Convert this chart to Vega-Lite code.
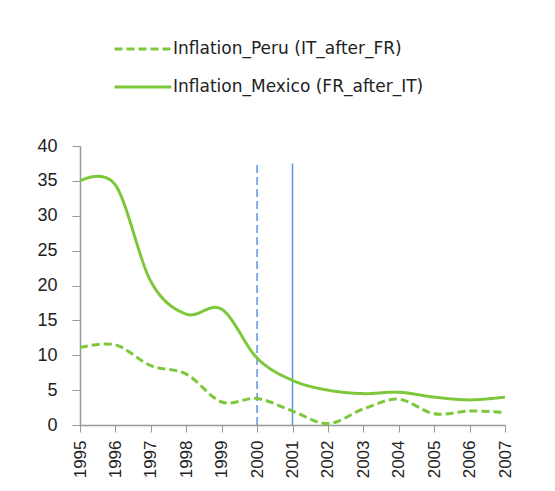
{
  "$schema": "https://vega.github.io/schema/vega-lite/v6.json",
  "width": 425,
  "height": 279,
  "autosize": {"type": "none"},
  "padding": {"left": 80, "top": 146, "right": 50, "bottom": 66},
  "background": "white",
  "config": {
    "view": {"stroke": null},
    "font": "Liberation Sans"
  },
  "datasets": {
    "infl": [
      {"year": 1995, "series": "Inflation_Peru (IT_after_FR)", "value": 11.1},
      {"year": 1996, "series": "Inflation_Peru (IT_after_FR)", "value": 11.5},
      {"year": 1997, "series": "Inflation_Peru (IT_after_FR)", "value": 8.5},
      {"year": 1998, "series": "Inflation_Peru (IT_after_FR)", "value": 7.3},
      {"year": 1999, "series": "Inflation_Peru (IT_after_FR)", "value": 3.3},
      {"year": 2000, "series": "Inflation_Peru (IT_after_FR)", "value": 3.8},
      {"year": 2001, "series": "Inflation_Peru (IT_after_FR)", "value": 2.0},
      {"year": 2002, "series": "Inflation_Peru (IT_after_FR)", "value": 0.2},
      {"year": 2003, "series": "Inflation_Peru (IT_after_FR)", "value": 2.3},
      {"year": 2004, "series": "Inflation_Peru (IT_after_FR)", "value": 3.7},
      {"year": 2005, "series": "Inflation_Peru (IT_after_FR)", "value": 1.6},
      {"year": 2006, "series": "Inflation_Peru (IT_after_FR)", "value": 2.0},
      {"year": 2007, "series": "Inflation_Peru (IT_after_FR)", "value": 1.8},
      {"year": 1995, "series": "Inflation_Mexico (FR_after_IT)", "value": 35.0},
      {"year": 1996, "series": "Inflation_Mexico (FR_after_IT)", "value": 34.4},
      {"year": 1997, "series": "Inflation_Mexico (FR_after_IT)", "value": 20.6},
      {"year": 1998, "series": "Inflation_Mexico (FR_after_IT)", "value": 15.9},
      {"year": 1999, "series": "Inflation_Mexico (FR_after_IT)", "value": 16.6},
      {"year": 2000, "series": "Inflation_Mexico (FR_after_IT)", "value": 9.6},
      {"year": 2001, "series": "Inflation_Mexico (FR_after_IT)", "value": 6.4},
      {"year": 2002, "series": "Inflation_Mexico (FR_after_IT)", "value": 5.0},
      {"year": 2003, "series": "Inflation_Mexico (FR_after_IT)", "value": 4.5},
      {"year": 2004, "series": "Inflation_Mexico (FR_after_IT)", "value": 4.7},
      {"year": 2005, "series": "Inflation_Mexico (FR_after_IT)", "value": 4.0},
      {"year": 2006, "series": "Inflation_Mexico (FR_after_IT)", "value": 3.6},
      {"year": 2007, "series": "Inflation_Mexico (FR_after_IT)", "value": 4.0}
    ],
    "dashedRule": [{"year": 2000, "value": 0, "value2": 37.7}],
    "solidRule": [{"year": 2001, "value": 0, "value2": 37.5}]
  },
  "encoding": {
    "x": {
      "field": "year",
      "type": "quantitative",
      "scale": {"domain": [1995, 2007], "nice": false, "zero": false},
      "axis": {
        "title": null,
        "values": [1995, 1996, 1997, 1998, 1999, 2000, 2001, 2002, 2003, 2004, 2005, 2006, 2007],
        "format": "d",
        "labelAngle": 270,
        "labelAlign": "right",
        "labelBaseline": "middle",
        "labelFontSize": 17,
        "labelColor": "#222222",
        "labelPadding": 8,
        "tickSize": 7,
        "tickColor": "#999999",
        "domainColor": "#999999",
        "domainWidth": 1.5,
        "grid": false,
        "labelFlush": false,
        "labelOverlap": false
      }
    },
    "y": {
      "field": "value",
      "type": "quantitative",
      "scale": {"domain": [0, 40], "nice": false},
      "axis": {
        "title": null,
        "values": [0, 5, 10, 15, 20, 25, 30, 35, 40],
        "labelFontSize": 18,
        "labelColor": "#222222",
        "labelPadding": 15,
        "tickSize": 8,
        "tickColor": "#999999",
        "domainColor": "#999999",
        "domainWidth": 1.5,
        "grid": false,
        "labelOverlap": false,
        "labelFlush": false
      }
    }
  },
  "layer": [
    {
      "data": {"name": "dashedRule"},
      "mark": {"type": "rule", "color": "#5f93dc", "strokeWidth": 1.5, "strokeDash": [8, 4]},
      "encoding": {
        "y2": {"field": "value2"}
      }
    },
    {
      "data": {"name": "solidRule"},
      "mark": {"type": "rule", "color": "#5f93dc", "strokeWidth": 1.5},
      "encoding": {
        "y2": {"field": "value2"}
      }
    },
    {
      "data": {"name": "infl"},
      "mark": {"type": "line", "interpolate": "cardinal", "strokeWidth": 3},
      "encoding": {
        "color": {
          "field": "series",
          "type": "nominal",
          "scale": {
            "domain": ["Inflation_Peru (IT_after_FR)", "Inflation_Mexico (FR_after_IT)"],
            "range": ["#7cc83a", "#7cc83a"]
          },
          "legend": {
            "title": null,
            "orient": "none",
            "legendX": 33,
            "legendY": -127,
            "symbolType": "stroke",
            "symbolSize": 3249,
            "symbolStrokeWidth": 3,
            "labelFont": "DejaVu Sans",
            "labelFontSize": 17,
            "labelColor": "#222222",
            "labelOffset": 0,
            "labelLimit": 400,
            "rowPadding": -12
          }
        },
        "strokeDash": {
          "field": "series",
          "type": "nominal",
          "scale": {
            "domain": ["Inflation_Peru (IT_after_FR)", "Inflation_Mexico (FR_after_IT)"],
            "range": [[8, 4], [1, 0]]
          },
          "legend": {
            "title": null,
            "orient": "none",
            "legendX": 33,
            "legendY": -127,
            "symbolType": "stroke",
            "symbolSize": 3249,
            "symbolStrokeWidth": 3,
            "labelFont": "DejaVu Sans",
            "labelFontSize": 17,
            "labelColor": "#222222",
            "labelOffset": 0,
            "labelLimit": 400,
            "rowPadding": -12
          }
        }
      }
    }
  ]
}
